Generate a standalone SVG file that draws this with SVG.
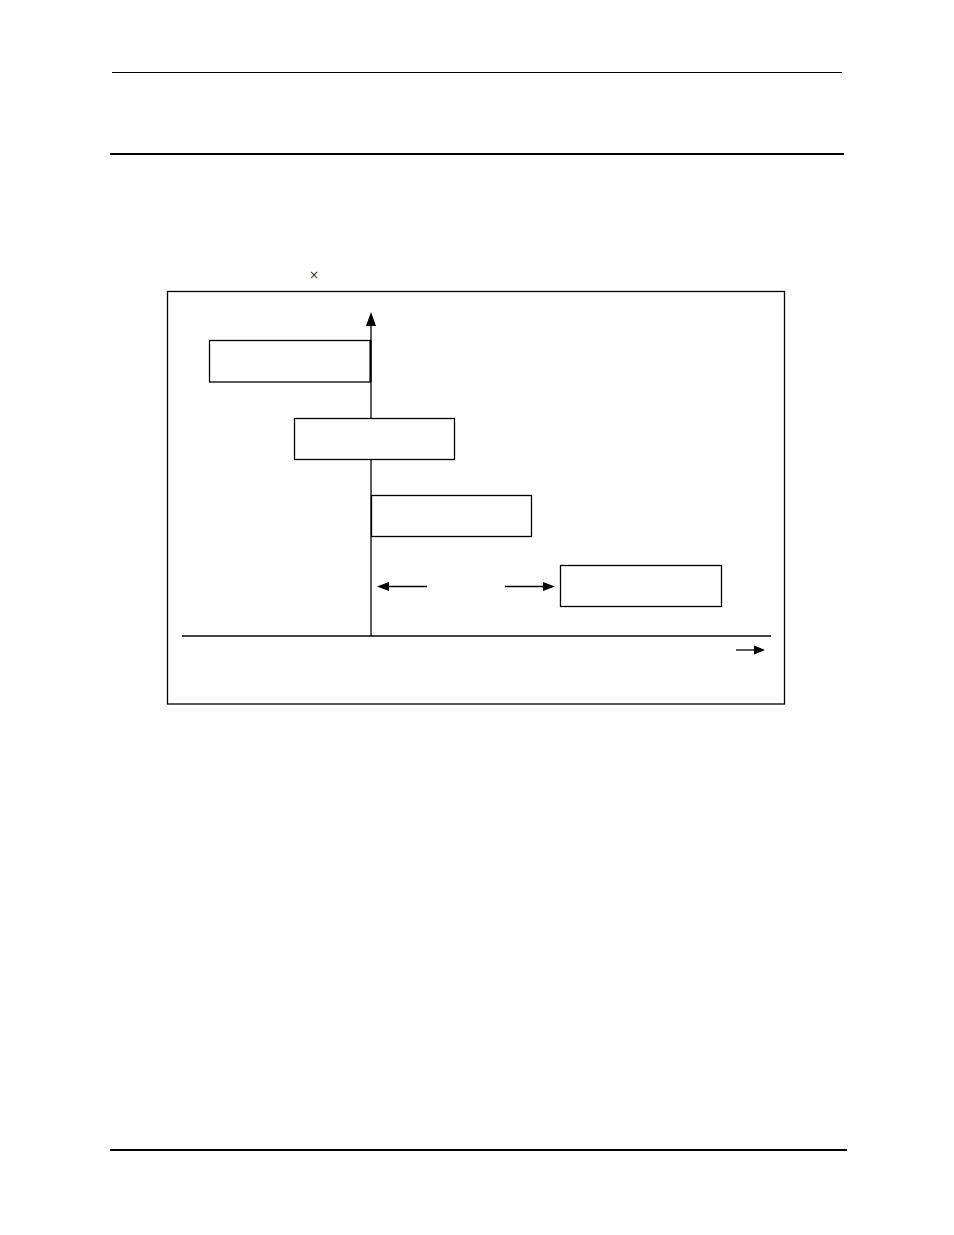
<svg xmlns="http://www.w3.org/2000/svg" width="954" height="1235" viewBox="0 0 954 1235">
<style>
.ln{stroke:#000;fill:none}
.bx{stroke:#000;stroke-width:1.3;fill:#fff}
.ah{fill:#000}
</style>
<rect width="954" height="1235" fill="#fff"/>
<g id="page">
<line class="ln" x1="112" y1="72.5" x2="842" y2="72.5" stroke-width="1.2"/>
<line class="ln" x1="110" y1="154" x2="844" y2="154" stroke-width="2"/>
<line class="ln" x1="110" y1="1150" x2="847" y2="1150" stroke-width="2"/>
<text x="314" y="279" font-family="DejaVu Sans, sans-serif" font-size="12" fill="#333" text-anchor="middle">×</text>
<rect x="167.5" y="291.5" width="617" height="412.5" class="ln" stroke-width="1.3"/>
</g>
<g id="connectors">
<line class="ln" x1="371" y1="324" x2="371" y2="636" stroke-width="1.3"/>
<polygon class="ah" points="371,312 366,326 376,326"/>
<line class="ln" x1="182" y1="636" x2="771" y2="636" stroke-width="1.3"/>
<line class="ln" x1="388" y1="586.5" x2="427" y2="586.5" stroke-width="1.3"/>
<polygon class="ah" points="377,586.5 389,582 389,591"/>
<line class="ln" x1="505" y1="586.5" x2="544" y2="586.5" stroke-width="1.3"/>
<polygon class="ah" points="555,586.5 543,582 543,591"/>
<line class="ln" x1="736" y1="650" x2="756" y2="650" stroke-width="1.3"/>
<polygon class="ah" points="765,650 754,645.5 754,654.5"/>
</g>
<g id="node1"><rect class="bx" x="209.5" y="340.5" width="161" height="41.5"/><line class="ln" x1="370.5" y1="340" x2="370.5" y2="382" stroke-width="2"/></g>
<g id="node2"><rect class="bx" x="294.5" y="418.5" width="160" height="41"/></g>
<g id="node3"><rect class="bx" x="371.5" y="495.5" width="160" height="41"/></g>
<g id="node4"><rect class="bx" x="560.5" y="565.5" width="161" height="41"/></g>
</svg>
